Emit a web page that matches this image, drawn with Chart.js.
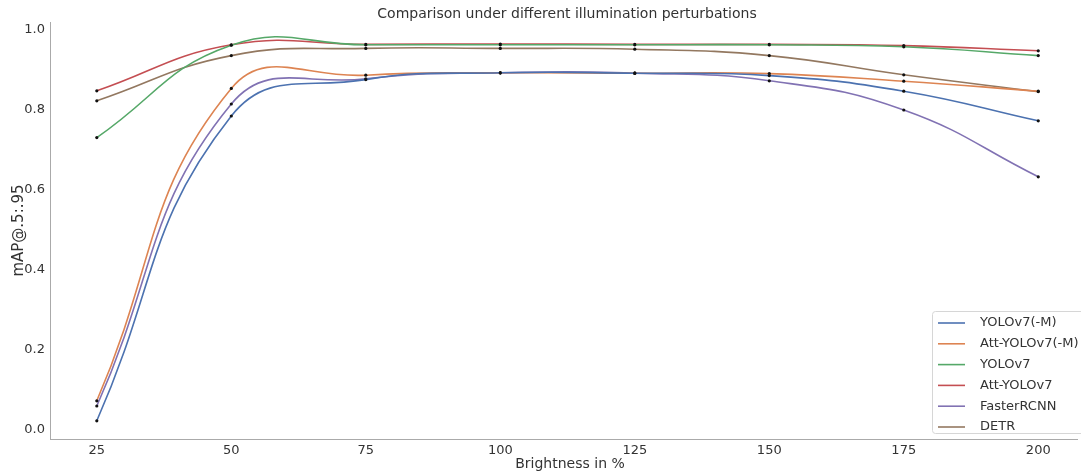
<!DOCTYPE html>
<html>
<head>
<meta charset="utf-8">
<script src="https://cdn.jsdelivr.net/npm/chart.js@4/dist/chart.umd.min.js"></script>
<style>
  html, body { margin: 0; padding: 0; background: #fff; overflow: hidden; }
  #wrap { width: 1081px; height: 474px; position: relative; }
</style>
</head>
<body>
<div id="wrap"><canvas id="chartBrillo"></canvas></div>
<script>
// datos
const brightness = [25, 50, 75, 100, 125, 150, 175, 200];
const yoloM      = [0.023, 0.785, 0.876, 0.893, 0.892, 0.886, 0.847, 0.773];
const attYoloM   = [0.073, 0.854, 0.887, 0.893, 0.892, 0.891, 0.872, 0.847];
const yolo       = [0.731, 0.962, 0.963, 0.963, 0.963, 0.963, 0.958, 0.936];
const attYolo    = [0.848, 0.963, 0.964, 0.965, 0.964, 0.964, 0.961, 0.948];
const fasterRcnn = [0.060, 0.815, 0.878, 0.893, 0.892, 0.873, 0.800, 0.633];
const detr       = [0.823, 0.936, 0.954, 0.954, 0.952, 0.936, 0.888, 0.846];
const yTicks = [0.0, 0.2, 0.4, 0.6, 0.8, 1.0];

const seriesNames = ['YOLOv7(-M)', 'Att-YOLOv7(-M)', 'YOLOv7', 'Att-YOLOv7', 'FasterRCNN', 'DETR'];
const seriesColors = ['#4C72B0', '#DD8452', '#55A868', '#C44E52', '#8172B3', '#937860'];
const seriesValues = [yoloM, attYoloM, yolo, attYolo, fasterRcnn, detr];
const tituloTexto = 'Comparison under different illumination perturbations';
const ejeXTexto = 'Brightness in %';

const datasets = seriesValues.map((vals, i) => ({
  label: seriesNames[i],
  data: vals.map((v, j) => ({ x: brightness[j], y: v })),
  borderColor: seriesColors[i],
  backgroundColor: seriesColors[i],
  borderWidth: 1.6,
  tension: 0.45,
  pointRadius: 1.6,
  pointBackgroundColor: '#111',
  pointBorderWidth: 0,
  fill: false
}));

// titulo, titulo del eje X y leyenda dibujados a mano
// (en la figura original el area sigue un poco mas alla del borde derecho)
const extras = {
  id: 'extras',
  afterDraw(chart) {
    const c = chart.ctx;
    c.save();
    c.fillStyle = '#333';
    c.font = '14px "DejaVu Sans"';
    c.textAlign = 'center';
    c.textBaseline = 'middle';
    c.fillText(tituloTexto, 567, 14);
    c.fillText(ejeXTexto, 570, 464);

    const x0 = 932, y0 = 311, w = 152, h = 122;
    c.fillStyle = 'rgba(255,255,255,0.85)';
    c.strokeStyle = '#d6d6d6';
    c.lineWidth = 1;
    c.beginPath();
    c.roundRect(x0 + 0.5, y0 + 0.5, w, h, 3);
    c.fill();
    c.stroke();
    c.font = '13px "DejaVu Sans"';
    c.textAlign = 'left';
    seriesNames.forEach((name, i) => {
      const yy = y0 + 12 + i * 20.8;
      c.strokeStyle = seriesColors[i];
      c.lineWidth = 1.6;
      c.beginPath();
      c.moveTo(938, yy);
      c.lineTo(965, yy);
      c.stroke();
      c.fillStyle = '#333';
      c.fillText(name, 980, yy);
    });
    c.restore();
  }
};

new Chart(document.getElementById('chartBrillo'), {
  type: 'line',
  data: { datasets: datasets },
  options: {
    responsive: true,
    maintainAspectRatio: false,
    animation: false,
    layout: { padding: { left: 0, right: 0, top: 22, bottom: 0 } },
    plugins: {
      legend: { display: false },
      tooltip: { enabled: false },
      title: { display: false }
    },
    scales: {
      x: {
        type: 'linear',
        min: 16.3,
        max: 207.2,
        afterBuildTicks: (s) => { s.ticks = brightness.map(v => ({ value: v })); },
        afterFit: (s) => { s.height = 35; },
        grid: { display: false, drawOnChartArea: false, drawTicks: true, tickLength: 3, color: '#bbb' },
        border: { display: true, color: '#aaa', width: 1 },
        ticks: { color: '#333', font: { family: 'DejaVu Sans', size: 13 }, padding: 1 },
        title: { display: false }
      },
      y: {
        min: -0.0225,
        max: 1.02,
        afterBuildTicks: (s) => { s.ticks = yTicks.map(v => ({ value: v })); },
        afterFit: (s) => { s.width = 50; },
        grid: { display: false, drawOnChartArea: false, drawTicks: true, tickLength: 3, color: '#bbb' },
        border: { display: true, color: '#aaa', width: 1 },
        ticks: {
          color: '#333',
          font: { family: 'DejaVu Sans', size: 13 },
          padding: 2,
          callback: (v) => Number(v).toFixed(1)
        },
        title: {
          display: true,
          text: 'mAP@.5:.95',
          color: '#333',
          font: { family: 'DejaVu Sans', size: 15 },
          padding: { top: 10, bottom: 0 }
        }
      }
    }
  },
  plugins: [extras]
});
</script>
</body>
</html>
